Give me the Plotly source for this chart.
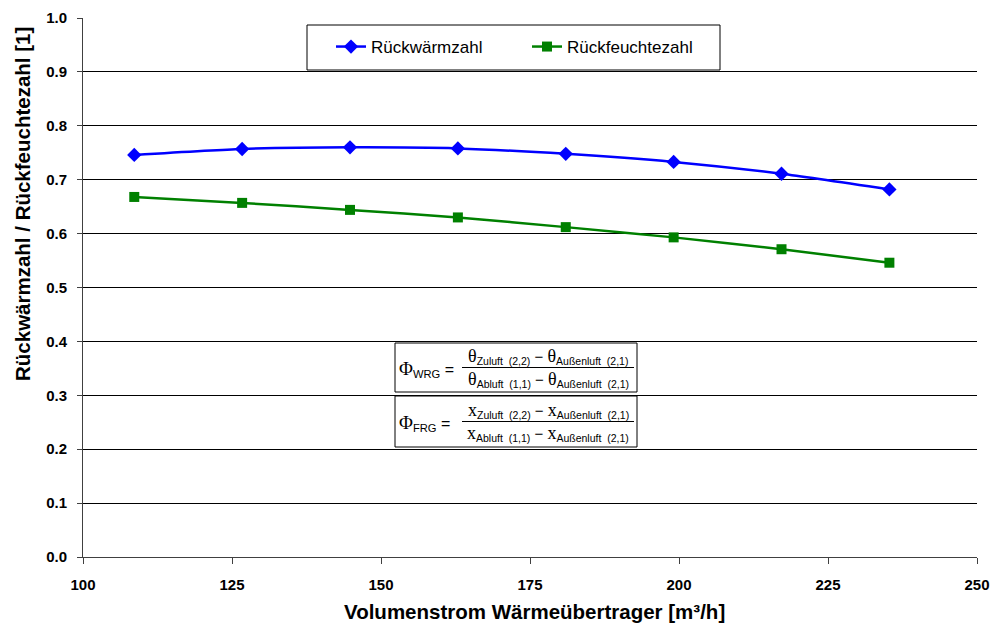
import plotly.graph_objects as go

volumenstrom = [108.6, 126.7, 144.8, 162.9, 181.0, 199.1, 217.2, 235.3]
rueckwaermzahl = [0.746, 0.757, 0.760, 0.758, 0.748, 0.733, 0.711, 0.682]
rueckfeuchtezahl = [0.668, 0.657, 0.644, 0.630, 0.612, 0.593, 0.571, 0.546]
x_ticks = [100, 125, 150, 175, 200, 225, 250]
y_ticks = [0.0, 0.1, 0.2, 0.3, 0.4, 0.5, 0.6, 0.7, 0.8, 0.9, 1.0]
x_title = "Volumenstrom Wärmeübertrager [m³/h]"
y_title = "Rückwärmzahl / Rückfeuchtezahl [1]"

FONT = "Arial, 'Liberation Sans', sans-serif"
SERIF = "'Liberation Serif', 'Times New Roman', serif"

L, R, T, B = 83, 977, 18, 557
W, H = 994, 625


def px(x):
    return (x - L) / (R - L)


def py(y):
    return (B - y) / (B - T)


fig = go.Figure()
fig.add_trace(go.Scatter(
    x=volumenstrom, y=rueckwaermzahl, name="Rückwärmzahl",
    mode="lines+markers", line=dict(color="#0000FF", width=2.5, shape="spline", smoothing=0.6),
    marker=dict(symbol="diamond", size=11, color="#0000FF")))
fig.add_trace(go.Scatter(
    x=volumenstrom, y=rueckfeuchtezahl, name="Rückfeuchtezahl",
    mode="lines+markers", line=dict(color="#008000", width=2.5, shape="spline", smoothing=0.6),
    marker=dict(symbol="square", size=10, color="#008000")))

shapes = []
annotations = []

# legend box
shapes.append(dict(type="rect", xref="paper", yref="paper", x0=px(307), x1=px(720), y0=py(70), y1=py(25),
                   line=dict(color="#000000", width=1), fillcolor="white", layer="below"))


def serif(s, size=18):
    return f"<span style=\"font-family:{SERIF};font-size:{size}px\">{s}</span>"


boxes = [
    dict(y0=343, y1=392, label="Φ", sub="WRG", sym="θ"),
    dict(y0=396, y1=447, label="Φ", sub="FRG", sym="x"),
]
for b in boxes:
    shapes.append(dict(type="rect", xref="paper", yref="paper", x0=px(395), x1=px(637),
                       y0=py(b["y1"]), y1=py(b["y0"]), line=dict(color="#000000", width=1),
                       fillcolor="white", layer="above"))
    ym = (b["y0"] + b["y1"]) / 2
    shapes.append(dict(type="line", xref="paper", yref="paper", x0=px(462), x1=px(634),
                       y0=py(ym), y1=py(ym), line=dict(color="#000000", width=1), layer="above"))
    s = serif(b["sym"])
    annotations.append(dict(xref="paper", yref="paper", x=px(397), y=py(ym + 1), xanchor="left", yanchor="middle",
                            showarrow=False, font=dict(family=FONT, size=16, color="black"),
                            text=f"{serif(b['label'], 19)}<sub>{b['sub']}</sub> ="))
    annotations.append(dict(xref="paper", yref="paper", x=px(548), y=py(ym - 11), xanchor="center", yanchor="middle",
                            showarrow=False, font=dict(family=FONT, size=15, color="black"),
                            text=f"{s}<sub>Zuluft&nbsp; (2,2)</sub> − {s}<sub>Außenluft&nbsp; (2,1)</sub>"))
    annotations.append(dict(xref="paper", yref="paper", x=px(548), y=py(ym + 12), xanchor="center", yanchor="middle",
                            showarrow=False, font=dict(family=FONT, size=15, color="black"),
                            text=f"{s}<sub>Abluft&nbsp; (1,1)</sub> − {s}<sub>Außenluft&nbsp; (2,1)</sub>"))

# axis titles
annotations.append(dict(xref="paper", yref="paper", x=px(534), y=py(611), xanchor="center", yanchor="middle",
                        showarrow=False, font=dict(family=FONT, size=20.5, color="black"),
                        text=f"<b>{x_title}</b>"))
annotations.append(dict(xref="paper", yref="paper", x=px(22), y=py(204), xanchor="center", yanchor="middle",
                        showarrow=False, textangle=-90, font=dict(family=FONT, size=20.5, color="black"),
                        text=f"<b>{y_title}</b>"))

fig.update_layout(
    width=W, height=H,
    margin=dict(l=L, r=W - R, t=T, b=H - B, autoexpand=False),
    paper_bgcolor="white", plot_bgcolor="white",
    font=dict(family=FONT, color="black"),
    shapes=shapes, annotations=annotations,
    legend=dict(orientation="h", x=px(331), xanchor="left", y=py(47), yanchor="middle",
                bgcolor="rgba(0,0,0,0)", borderwidth=0, entrywidth=151, entrywidthmode="pixels",
                font=dict(family=FONT, size=17, color="black"), itemwidth=30),
    xaxis=dict(range=[100, 250], tickvals=x_ticks, ticktext=[f"<b>{v}</b>" for v in x_ticks],
               showgrid=False, zeroline=False, showline=True, linecolor="#404040", linewidth=1,
               ticks="outside", ticklen=6, tickcolor="#404040", automargin=False,
               tickfont=dict(family=FONT, size=15, color="black"), ticklabelstandoff=8),
    yaxis=dict(range=[0, 1.0], tickvals=y_ticks, ticktext=[f"<b>{v:.1f}</b>" for v in y_ticks],
               showgrid=True, gridcolor="#000000", gridwidth=1, zeroline=False,
               showline=True, linecolor="#404040", linewidth=1, automargin=False,
               ticks="outside", ticklen=5, tickcolor="#404040", ticklabelstandoff=7,
               tickfont=dict(family=FONT, size=15, color="black")),
)

fig.write_html("out.html")
